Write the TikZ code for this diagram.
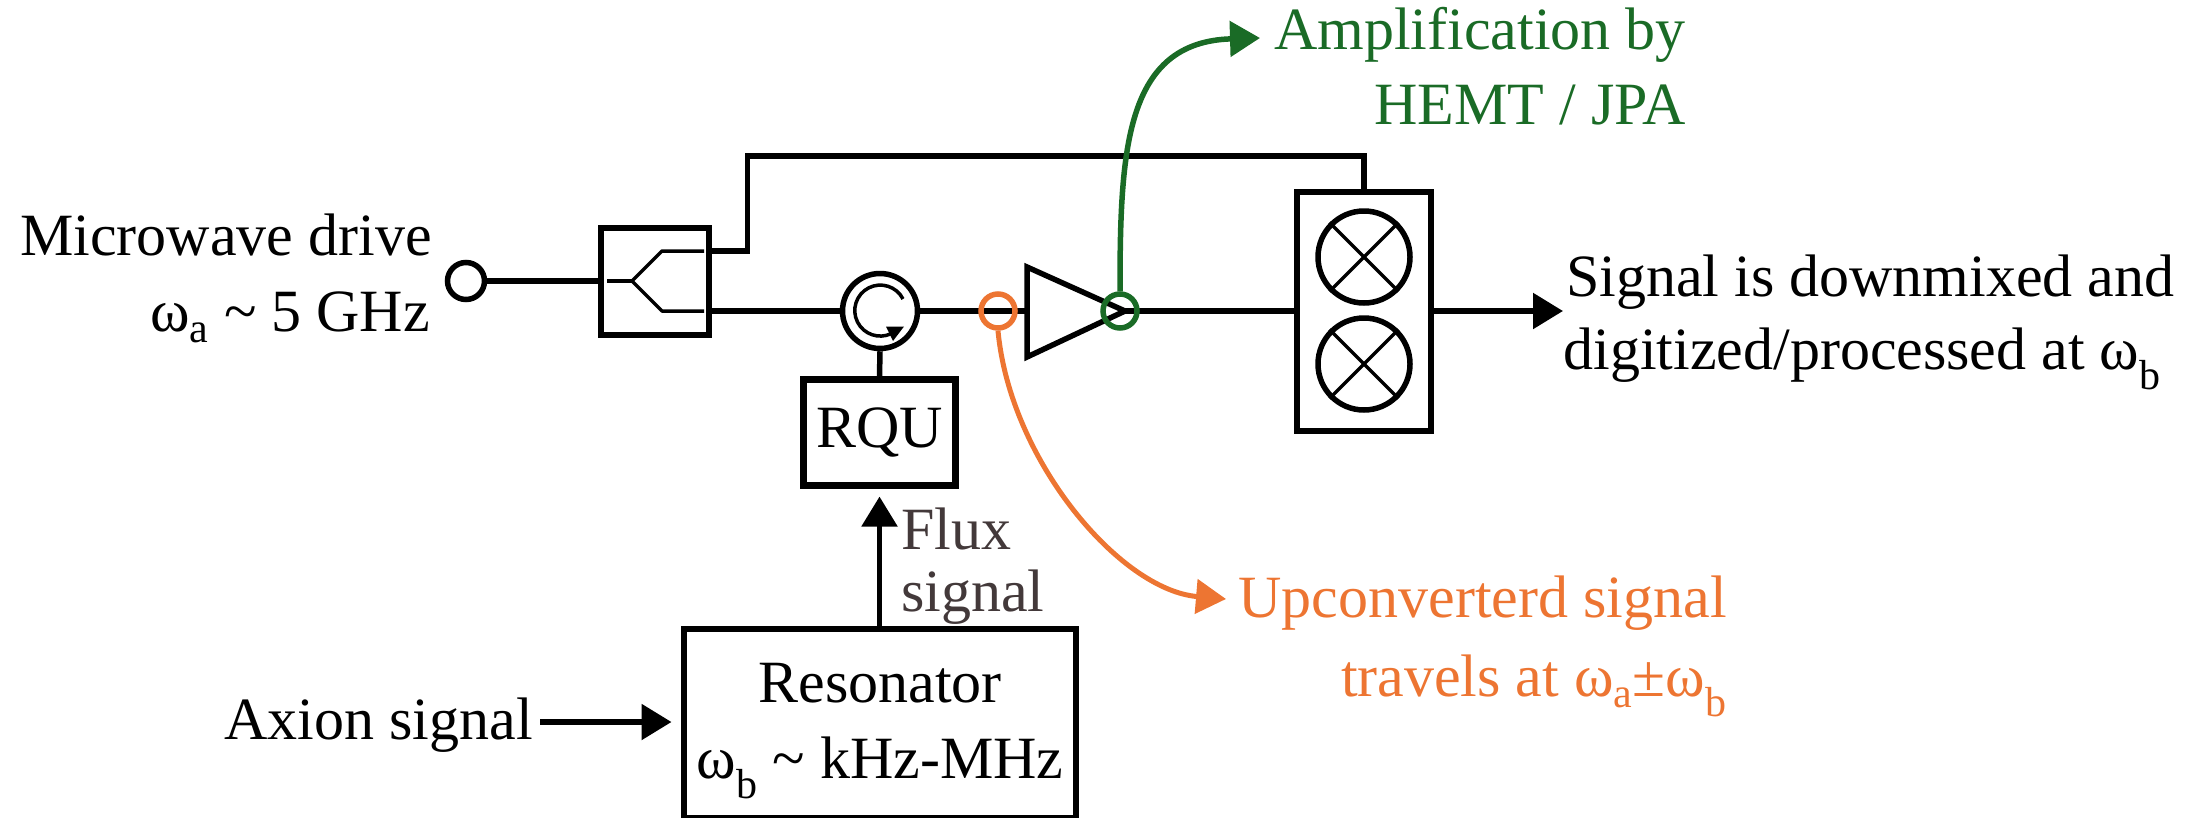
\documentclass[tikz,border=0pt]{standalone}
\usepackage{fontspec}
\setmainfont{Liberation Serif}
\usetikzlibrary{arrows.meta}
\definecolor{ampgreen}{HTML}{1A6B26}
\definecolor{uporange}{HTML}{ED7532}
\definecolor{fluxgray}{HTML}{43393A}
\tikzset{
  x=1pt,y=-1pt,
  wire/.style={line width=5.5pt,line join=miter},
  thinwire/.style={line width=3.5pt},
  head/.style={-{Triangle[length=30pt,width=35pt]}},
  label/.style={inner sep=0pt,font=\fontsize{60}{76}\selectfont},
  boxn/.style={draw,line width=6pt,inner sep=0pt,minimum width=0pt},
}
\begin{document}
\begin{tikzpicture}
\useasboundingbox (0,0) rectangle (2206,817);
% coordinates
\coordinate (splitUp) at (712,251);
\coordinate (splitDown) at (712,311);
\node[draw,wire,circle,inner sep=0pt,minimum size=37pt,fill=white,anchor=center] (port) at (466,281) {};
\node[boxn,minimum width=108pt,minimum height=107pt,anchor=center] (split) at (655.3,281) {};
\draw[wire] (port.east) -- (split.west |- port.east);
\coordinate (sa) at (607,281); \coordinate (sb) at (632,281);
\coordinate (sc) at (662,251); \coordinate (sd) at (704,251);
\coordinate (se) at (662,311); \coordinate (sf) at (704,311);
\draw[thinwire,line join=round] (sd) -- (sc) -- (sb) -- (se) -- (sf);
\draw[thinwire] (sa) -- (sb);
% circulator
\node[draw,wire,circle,inner sep=0pt,minimum size=75pt] (circ) at (880,311) {};
\draw[line width=3.5pt] (903,299) arc[start angle=27,end angle=295,radius=25.5pt];
\fill (886,326.5) -- (904,326.5) -- (893,341) -- cycle;
% RQU
\node[boxn,line width=6.5pt,minimum width=152pt,minimum height=106pt,font=\fontsize{60}{72}\selectfont] (rqu) at (879.5,432.3) {\raisebox{-3pt}{RQU}};
\draw[wire] (circ.south) -- (rqu.north);
% amplifier
\coordinate (ampA) at (1027,267);
\coordinate (ampB) at (1027,357);
\coordinate (ampT) at (1125,311);
\draw[wire,line join=miter] (ampA) -- (ampT) -- (ampB) -- cycle;
% mixer
\node[boxn,minimum width=134pt,minimum height=239pt] (mix) at (1364,311) {};
\node[draw,wire,circle,inner sep=0pt,minimum size=92pt] (m1) at (1364,257) {};
\node[draw,wire,circle,inner sep=0pt,minimum size=92pt] (m2) at (1364,364) {};
\foreach \m in {m1,m2}{
  \draw[thinwire] (\m.north west) -- (\m.south east);
  \draw[thinwire] (\m.north east) -- (\m.south west);
}
% wires
\draw[wire] (split.east |- splitDown) -- (circ.west);
\draw[wire] (circ.east) -- (ampA |- circ.east);
\draw[wire] (ampT) -- (mix.west |- ampT);
\draw[wire,line cap=butt] (split.east |- splitUp) -- (747.5,251) -- (747.5,156) -- (1364,156) -- (mix.north);
\draw[wire,head] (mix.east |- ampT) -- (1563,311);
% highlights
\node[draw=uporange,wire,circle,inner sep=0pt,minimum size=34pt] (oc) at (998,311) {};
\node[draw=ampgreen,wire,circle,inner sep=0pt,minimum size=34pt] (gc) at (1120,311) {};
\draw[ampgreen,wire,head] (gc.north) .. controls (1120,150) and (1125,42) .. (1260,38);
\draw[uporange,line width=5pt,-{Triangle[length=30pt,width=34pt]}] (oc.south) .. controls (1010,460) and (1120,590) .. (1226,599);
% resonator
\node[boxn,minimum width=392pt,minimum height=189pt] (res) at (879.5,723) {};
\node[label,anchor=base] (restxt) at (880,702) {Resonator};
\node[label,anchor=base] (restxt2) at (880,778) {ω\textsubscript{b} \textasciitilde{} kHz-MHz};
\draw[wire,head,shorten >=8pt] (res.north -| rqu.south) -- (rqu.south);
\node[label,anchor=base west,text=fluxgray] (flux1) at (901,549) {Flux};
\node[label,anchor=base west,text=fluxgray] (flux2) at (901,611) {signal};
% labels
\node[label,anchor=base east] (axion) at (533,739) {Axion signal};
\draw[wire,head,shorten >=9pt] (axion.east |- 0,722) ++(7,0) coordinate (axs) -- (axs -| res.west);
\node[label,anchor=base east] (mw1) at (432,255) {Microwave drive};
\node[label,anchor=base east] (mw2) at (430,331) {ω\textsubscript{a} \textasciitilde{} 5 GHz};
\node[label,anchor=base east,text=ampgreen] (g1) at (1686,49) {Amplification by};
\node[label,anchor=base east,text=ampgreen] (g2) at (1686,124) {HEMT / JPA};
\node[label,anchor=base west] (s1) at (1566,296) {Signal is downmixed and};
\node[label,anchor=base east] (s2) at (2161,369) {digitized/processed at ω\textsubscript{b}};
\node[label,anchor=base east,text=uporange] (o1) at (1727,617) {Upconverterd signal};
\node[label,anchor=base east,text=uporange] (o2) at (1727,696) {travels at ω\textsubscript{a}±ω\textsubscript{b}};
\end{tikzpicture}
\end{document}
